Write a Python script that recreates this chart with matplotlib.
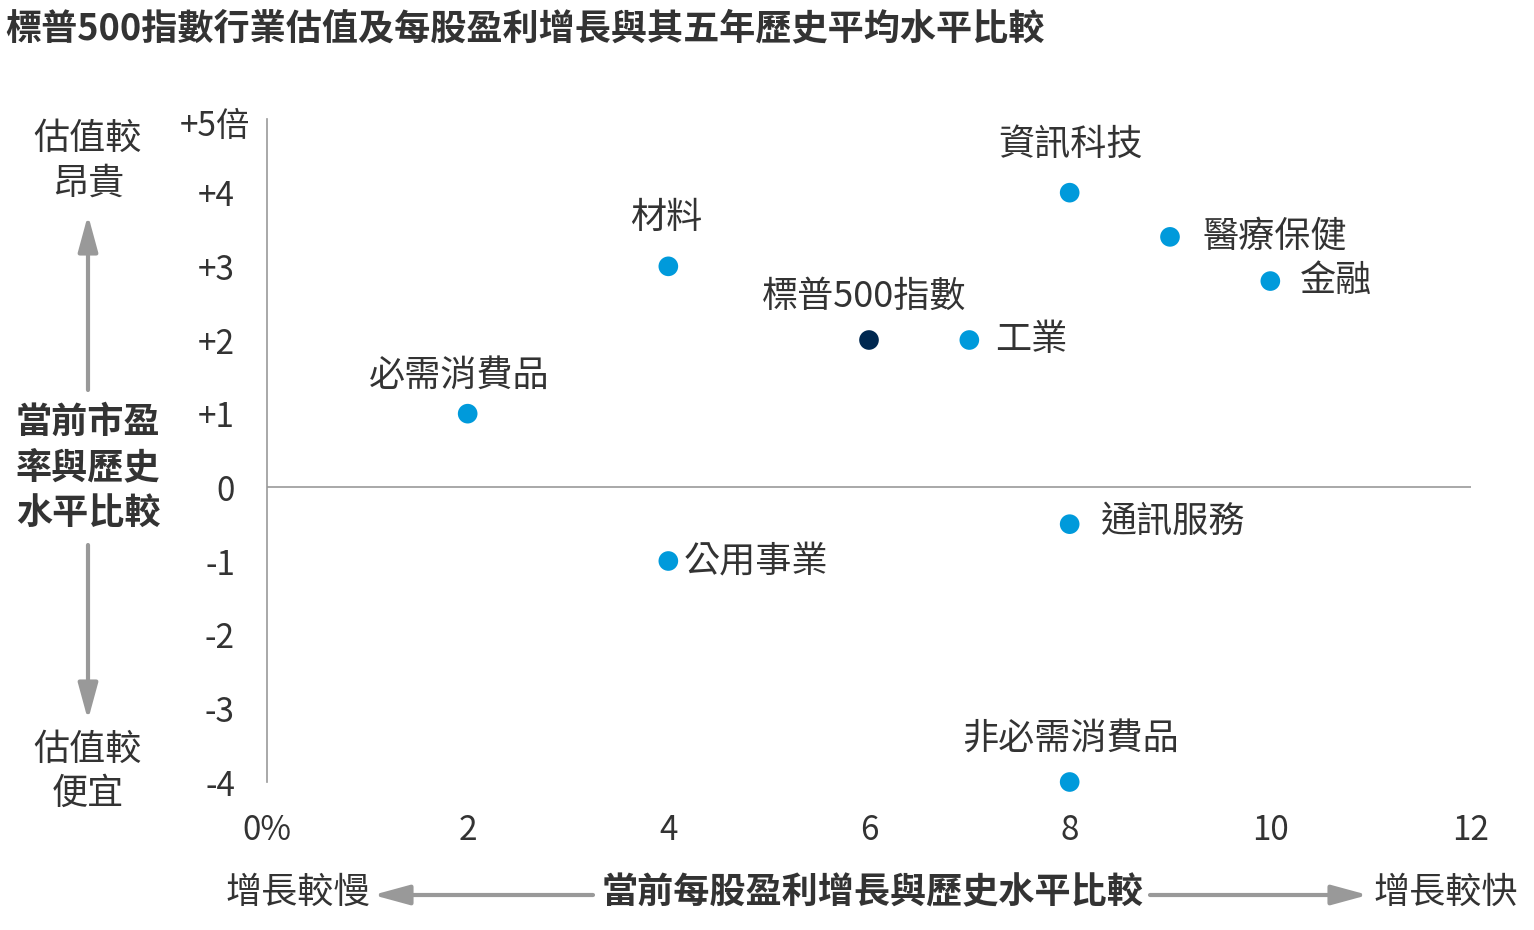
import matplotlib
matplotlib.use("Agg")
import matplotlib.pyplot as plt
from matplotlib.patches import FancyArrowPatch
from matplotlib.transforms import blended_transform_factory

plt.rcParams['font.family'] = ['Noto Sans CJK TC', 'DejaVu Sans']

# ---- data ----
sectors = ['必需消費品', '材料', '公用事業', '標普500指數', '工業',
           '資訊科技', '通訊服務', '非必需消費品', '醫療保健', '金融']
eps_growth_diff = [2, 4, 4, 6, 7, 8, 8, 8, 9, 10]
pe_diff = [1.0, 3.0, -1.0, 2.0, 2.0, 4.0, -0.5, -4.0, 3.4, 2.8]
is_index = [False, False, False, True, False, False, False, False, False, False]

x_ticks = [0, 2, 4, 6, 8, 10, 12]
x_tick_labels = ['0%', '2', '4', '6', '8', '10', '12']
y_ticks = [-4, -3, -2, -1, 0, 1, 2, 3, 4, 5]
y_tick_labels = ['-4', '-3', '-2', '-1', '0', '+1', '+2', '+3', '+4', '+5倍']

title = '標普500指數行業估值及每股盈利增長與其五年歷史平均水平比較'

# ---- layout / style ----
W, H = 1534, 930
TXT = '#333333'
GRAY = '#999999'
BLUE = '#009ADB'
NAVY = '#002850'
FS = 26

# label placement: (dx_px, dy_px, ha) relative to dot (pixels; dy up positive)
label_place = {
    '必需消費品': (-8, 38, 'center'),
    '材料': (-2, 48, 'center'),
    '公用事業': (15, 0, 'left'),
    '標普500指數': (-5, 43, 'center'),
    '工業': (26, 0, 'left'),
    '資訊科技': (1, 48, 'center'),
    '通訊服務': (30, 2, 'left'),
    '非必需消費品': (1, 42, 'center'),
    '醫療保健': (33, 0, 'left'),
    '金融': (30, 0, 'left'),
}

fig = plt.figure(figsize=(W / 100, H / 100), dpi=100)
ax = fig.add_axes([267 / W, 1 - 782 / H, (1471 - 267) / W, (782 - 119) / H])

ax.set_xlim(0, 12)
ax.set_ylim(-4, 5)

for s in ['top', 'right', 'bottom']:
    ax.spines[s].set_visible(False)
ax.spines['left'].set_color(GRAY)
ax.spines['left'].set_linewidth(1.2)
ax.axhline(0, color=GRAY, lw=1.2, zorder=1)

px2pt = 72 / 100

ax.set_xticks(x_ticks)
ax.set_xticklabels(x_tick_labels)
ax.set_yticks(y_ticks)
# the top label (with unit) is drawn separately so it can stick out to the right
ax.set_yticklabels(y_tick_labels[:-1] + [''], ha='right')
ax.tick_params(axis='both', length=0, labelsize=24, labelcolor=TXT)
ax.tick_params(axis='x', pad=22)
ax.tick_params(axis='y', pad=32 * px2pt)
trans_y = blended_transform_factory(ax.transAxes, ax.transData)
ax.annotate(y_tick_labels[-1], (0, y_ticks[-1]), xycoords=trans_y,
            xytext=(-17 * px2pt, -7 * px2pt), textcoords='offset points',
            ha='right', va='center', fontsize=24, color=TXT, annotation_clip=False)

colors = [NAVY if f else BLUE for f in is_index]
ax.scatter(eps_growth_diff, pe_diff, s=200, c=colors, zorder=3, linewidths=0,
           clip_on=False)

for name, xv, yv in zip(sectors, eps_growth_diff, pe_diff):
    dx, dy, ha = label_place[name]
    ax.annotate(name, (xv, yv), xytext=(dx * px2pt, dy * px2pt),
                textcoords='offset points', ha=ha, va='center',
                fontsize=FS, color=TXT)


def fx(p):
    return p / W


def fy(p):
    return 1 - p / H


# title
fig.text(fx(5), fy(29), title, ha='left', va='center', fontsize=26,
         fontweight='bold', color=TXT)

# left side labels
fig.text(fx(88), fy(161), '估值較\n昂貴', ha='center', va='center',
         fontsize=FS, color=TXT, linespacing=1.3)
fig.text(fx(88), fy(468), '當前市盈\n率與歷史\n水平比較', ha='center', va='center',
         fontsize=FS, fontweight='bold', color=TXT, linespacing=1.3)
fig.text(fx(88), fy(772), '估值較\n便宜', ha='center', va='center',
         fontsize=FS, color=TXT, linespacing=1.3)

arrow_kw = dict(arrowstyle='-|>,head_length=1.1,head_width=0.3', color=GRAY,
                lw=3, shrinkA=0, shrinkB=0, mutation_scale=20,
                transform=fig.transFigure)
fig.add_artist(FancyArrowPatch((fx(88), fy(390)), (fx(88), fy(215)), **arrow_kw))
fig.add_artist(FancyArrowPatch((fx(88), fy(545)), (fx(88), fy(720)), **arrow_kw))

# bottom labels
fig.text(fx(226), fy(893), '增長較慢', ha='left', va='center', fontsize=FS, color=TXT)
fig.text(fx(873), fy(893), '當前每股盈利增長與歷史水平比較', ha='center', va='center',
         fontsize=FS, fontweight='bold', color=TXT)
fig.text(fx(1518), fy(893), '增長較快', ha='right', va='center', fontsize=FS, color=TXT)
fig.add_artist(FancyArrowPatch((fx(593), fy(895)), (fx(373), fy(895)), **arrow_kw))
fig.add_artist(FancyArrowPatch((fx(1150), fy(895)), (fx(1368), fy(895)), **arrow_kw))

fig.savefig('out.png', dpi=100)
